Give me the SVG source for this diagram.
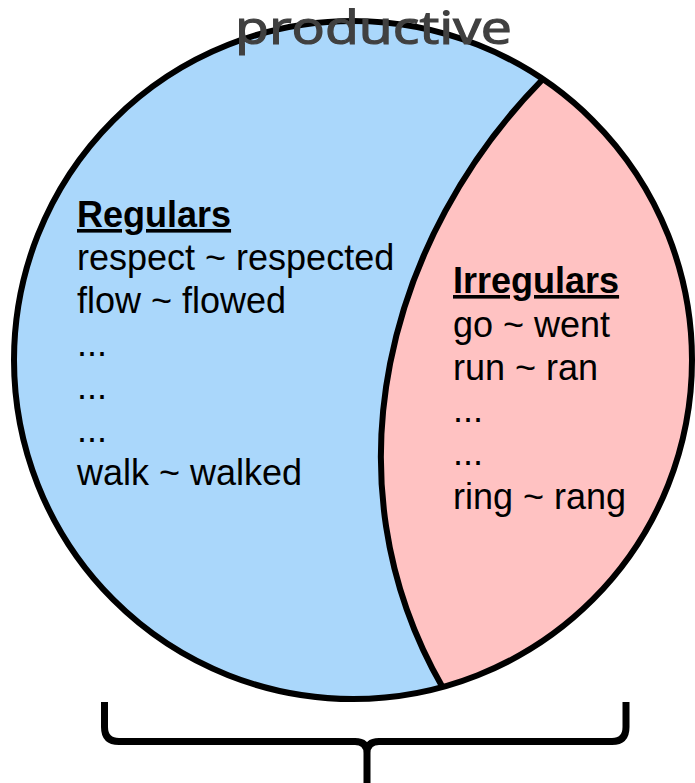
<svg xmlns="http://www.w3.org/2000/svg" width="695" height="783" viewBox="0 0 695 783">
<style>
.t{font-family:"Liberation Sans",Arial,sans-serif;font-size:36px;fill:#000}
.h{font-weight:bold;text-decoration:underline}
.ln{fill:none;stroke:#000;stroke-width:6}
</style>
<rect width="695" height="783" fill="#fff"/>
<g id="regulars-region">
<circle cx="353" cy="360" r="339" fill="#aad7fb"/>
</g>
<g id="irregulars-region">
<path d="M542,80 A339,339 0 0 1 443,688 C322,478 390,235 542,80 Z" fill="#ffc2c2"/>
</g>
<g id="connectors">
<path class="ln" d="M542,80 C390,235 322,478 443,688"/>
<circle class="ln" cx="353" cy="360" r="339"/>
<path fill="none" stroke="#000" stroke-width="7" d="M104.5,702 L104.5,727 Q104.5,741.5 119,741.5 L355,741.5 Q367,741.5 367,753 L367,783 M367,753 Q367,741.5 379,741.5 L612,741.5 Q626,741.5 626,727 L626,702"/>
</g>
<g id="regulars-text">
<text class="t h" x="77" y="227">Regulars</text>
<text class="t" x="77" y="270">respect ~ respected</text>
<text class="t" x="77" y="313">flow ~ flowed</text>
<text class="t" x="77" y="356">...</text>
<text class="t" x="77" y="399">...</text>
<text class="t" x="77" y="442">...</text>
<text class="t" x="77" y="485">walk ~ walked</text>
</g>
<g id="irregulars-text">
<text class="t h" x="453" y="293">Irregulars</text>
<text class="t" x="453" y="337">go ~ went</text>
<text class="t" x="453" y="380">run ~ ran</text>
<text class="t" x="453" y="422">...</text>
<text class="t" x="453" y="465">...</text>
<text class="t" x="453" y="509">ring ~ rang</text>
</g>
<g id="title">
<text x="235" y="44" font-family="'Open Sans',Lato,sans-serif" font-size="46" fill="#404040" stroke="#404040" stroke-width="1.2" textLength="277" lengthAdjust="spacingAndGlyphs">productive</text>
</g>
</svg>
